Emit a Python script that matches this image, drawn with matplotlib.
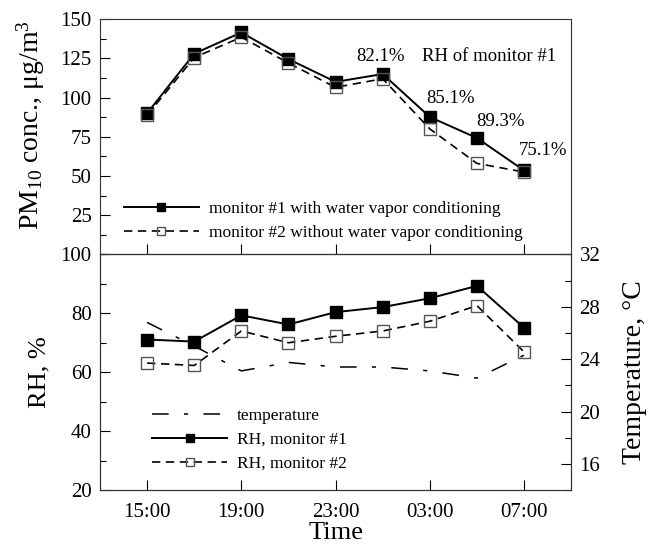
import numpy as np
import matplotlib
matplotlib.use("Agg")
import matplotlib.pyplot as plt
from matplotlib.ticker import MultipleLocator

plt.rcParams['font.family'] = ['Liberation Serif', 'DejaVu Serif']
plt.rcParams['mathtext.fontset'] = 'custom'
plt.rcParams['mathtext.rm'] = 'Liberation Serif'
plt.rcParams['mathtext.it'] = 'Liberation Serif:italic'
plt.rcParams['lines.scale_dashes'] = False

# ---------------------------
# data
# ---------------------------
times = ['15:00', '17:00', '19:00', '21:00', '23:00', '01:00', '03:00', '05:00', '07:00']
pm_monitor1 = [90, 128, 141.5, 124.5, 110, 115, 87.6, 74.2, 53.5]
pm_monitor2 = [88.7, 125.5, 138.5, 122, 106.5, 112, 80, 58, 52.5]
rh_monitor1 = [71.1, 70.4, 79.3, 76.2, 80.4, 82.1, 85.1, 89.3, 75.1]
rh_monitor2 = [63.1, 62.3, 74.0, 70.0, 72.2, 74.0, 77.3, 82.6, 66.9]
temperature = [26.8, 25.0, 23.1, 23.75, 23.4, 23.4, 23.1, 22.55, 24.3]
rh_labels = ['82.1%', '85.1%', '89.3%', '75.1%']
tick_times = ['15:00', '19:00', '23:00', '03:00', '07:00']

x = np.arange(len(times))

fig = plt.figure(figsize=(6.58, 5.47), dpi=100)
ax1 = fig.add_axes([0.152, 0.535, 0.716, 0.430])
ax2 = fig.add_axes([0.152, 0.104, 0.716, 0.431])

# ---------------------------
# top panel: PM10
# ---------------------------
ax1.plot(x, pm_monitor1, '-', color='black', lw=1.4, marker='s', ms=8,
         mfc='black', mec='black', label='monitor #1 with water vapor conditioning')
ax1.plot(x, pm_monitor2, color='black', lw=1.2, dashes=(6, 4), marker='s', ms=8,
         mfc='none', mec='#555555', mew=1.0,
         label='monitor #2 without water vapor conditioning')

ax1.set_xlim(-1, 9)
ax1.set_ylim(0, 150)
ax1.set_yticks([25, 50, 75, 100, 125, 150])
ax1.yaxis.set_minor_locator(MultipleLocator(12.5))
ax1.set_xticks(x[::2])
ax1.set_xticklabels([])
ax1.set_ylabel(r'PM$_{\rm 10}$ conc., μg/m$^{\rm 3}$', fontsize=20)
ax1.yaxis.set_label_coords(-0.112, 0.55)

ann_pos = [(4.95, 126), (6.43, 99.5), (7.5, 85), (8.4, 66.4)]
for lab, (px, py) in zip(rh_labels, ann_pos):
    ax1.text(px, py, lab, ha='center', va='center', fontsize=13.5)
ax1.text(5.84, 126, 'RH of monitor #1', ha='left', va='center', fontsize=13.5)

ax1.legend(loc='lower left', bbox_to_anchor=(0.025, 0.005), frameon=False,
           fontsize=12.5, handlelength=4.3, handletextpad=0.6, labelspacing=0.45,
           borderpad=0.2, markerscale=0.8)

# ---------------------------
# bottom panel: RH and temperature
# ---------------------------
ax3 = ax2.twinx()
tline, = ax3.plot(x, temperature, color='black', lw=1.1, dashes=(12, 11, 3, 11),
                  label='temperature')
l1, = ax2.plot(x, rh_monitor1, '-', color='black', lw=1.4, marker='s', ms=8,
               mfc='black', mec='black', label='RH, monitor #1')
l2, = ax2.plot(x, rh_monitor2, color='black', lw=1.2, dashes=(6, 4), marker='s', ms=8,
               mfc='none', mec='#555555', mew=1.0, label='RH, monitor #2')
ax2.set_zorder(ax3.get_zorder() + 1)
ax2.patch.set_visible(False)

ax2.set_xlim(-1, 9)
ax2.set_ylim(20, 100)
ax2.set_yticks([20, 40, 60, 80, 100])
ax2.yaxis.set_minor_locator(MultipleLocator(10))
ax2.set_xticks(x[::2])
ax2.set_xticklabels(tick_times)
ax2.set_ylabel('RH, %', fontsize=19)
ax2.yaxis.set_label_coords(-0.106, 0.50)
ax2.set_xlabel('Time', fontsize=19, labelpad=0)

ax3.set_ylim(14, 32)
ax3.set_yticks([16, 20, 24, 28, 32])
ax3.yaxis.set_minor_locator(MultipleLocator(2))
ax3.set_ylabel('Temperature, °C', fontsize=20, rotation=90)
ax3.yaxis.set_label_coords(1.107, 0.50)

ax2.legend([tline, l1, l2], ['temperature', 'RH, monitor #1', 'RH, monitor #2'],
           loc='lower left', bbox_to_anchor=(0.085, 0.026), frameon=False,
           fontsize=12.5, handlelength=4.3, handletextpad=0.6, labelspacing=0.45,
           borderpad=0.2, markerscale=0.8)

for ax in (ax1, ax2, ax3):
    ax.tick_params(which='major', direction='in', length=7, width=0.8,
                   labelsize=15, pad=6)
    ax.tick_params(which='minor', direction='in', length=4, width=0.8)
    for s in ax.spines.values():
        s.set_linewidth(0.8)
        s.set_color('#333333')
ax1.tick_params(axis='x', which='both', top=False)
ax2.tick_params(axis='x', which='both', top=False, pad=9)
ax2.tick_params(axis='y', which='both', right=False)
ax1.tick_params(axis='y', which='both', right=False)
ax3.tick_params(axis='y', which='both', left=False)

fig.savefig('out.png', dpi=100)
